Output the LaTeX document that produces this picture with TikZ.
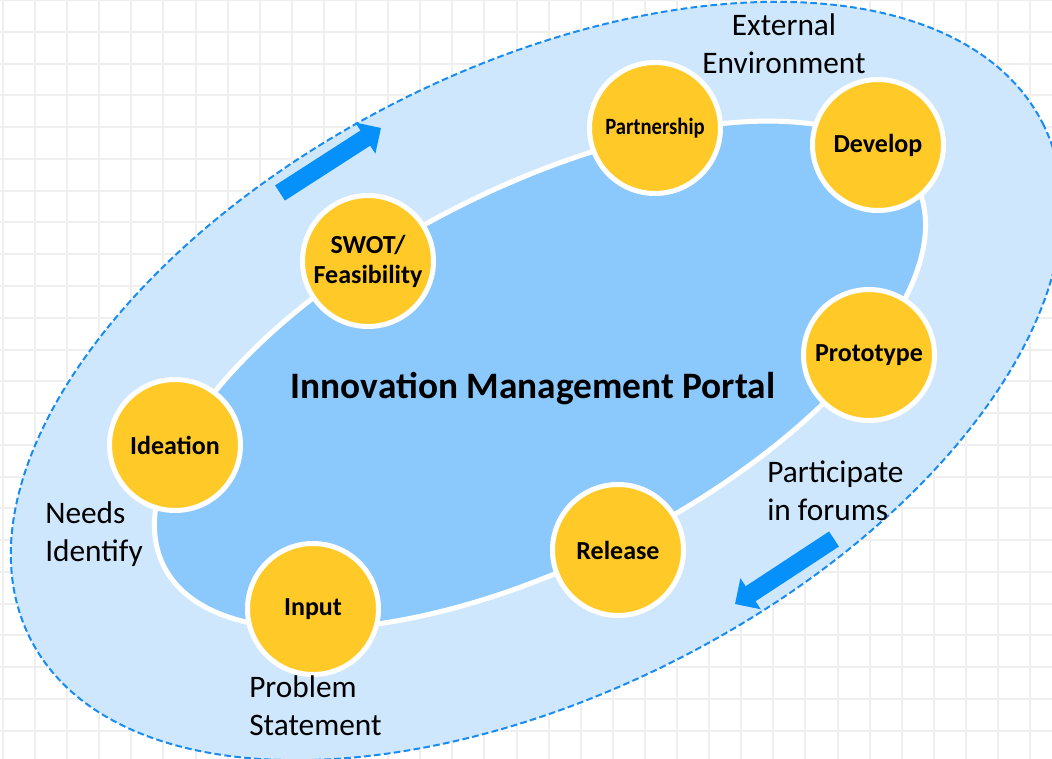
\documentclass[tikz,border=0pt]{standalone}
\usepackage{fontspec}
\setmainfont{Carlito}
\usetikzlibrary{arrows.meta}
\definecolor{outerfill}{RGB}{206,231,253}
\definecolor{innerfill}{RGB}{139,200,252}
\definecolor{dashblue}{RGB}{24,140,240}
\definecolor{arrowblue}{RGB}{6,144,250}
\definecolor{stagefill}{RGB}{255,202,40}
\definecolor{gridgray}{RGB}{239,239,239}
\begin{document}
\begin{tikzpicture}[x=0.75pt,y=-0.75pt,
  stage/.style={circle, fill=stagefill, draw=white, line width=3.75pt, minimum size=98.25pt, inner sep=0pt, font=\bfseries\fontsize{19.5}{22.5}\selectfont, align=center, text=black},
  lbl/.style={font=\fontsize{23.5}{28.5}\selectfont, inner sep=0pt, text=black},
  flow/.style={draw=arrowblue, line width=13.5pt, -{Triangle[width=27pt,length=14pt]}, arrowblue},
  gridline/.style={gridgray, line width=1.5pt}
]
\useasboundingbox (0,0) rectangle (1052,759);
\clip (0,0) rectangle (1052,759);
\fill[white] (0,0) rectangle (1052,759);
\foreach \i in {0,...,32} \draw[gridline] ({2.9+32.1*\i},0) -- ({2.9+32.1*\i},759);
\foreach \j in {0,...,24} \draw[gridline] (0,{0.25+31.75*\j}) -- (1052,{0.25+31.75*\j});
% outer environment
\filldraw[fill=outerfill, draw=dashblue, line width=1.5pt, dash pattern=on 5pt off 2.5pt, rotate around={27:(536.5,381)}] (536.5,381) ellipse [x radius=568, y radius=312];
% inner portal
\filldraw[fill=innerfill, draw=white, line width=3.75pt, rotate around={27:(540,375)}] (540,375) ellipse [x radius=422, y radius=187];
% arrows
\coordinate (a1s) at (280,193);
\coordinate (a1e) at (381,128);
\coordinate (a2s) at (834,539);
\coordinate (a2e) at (735,604);
\draw[flow] (a1s) -- (a1e);
\draw[flow] (a2s) -- (a2e);
% stages
\node[stage] (swot) at (368,261) {SWOT/\\Feasibility};
\node[stage] (part) at (655,128) {\fontsize{17.5}{20}\selectfont\scalebox{0.885}[1]{Partnership}};
\node[stage] (dev) at (878,145) {Develop};
\node[stage] (proto) at (869,355) {Prototype};
\node[stage] (rel) at (618,550) {Release};
\node[stage] (inp) at (313,609) {Input};
\node[stage] (idea) at (175,445) {Ideation};
% title
\node[font=\bfseries\fontsize{28}{33}\selectfont, inner sep=0pt, anchor=base] (title) at (533,398) {Innovation Management Portal};
% labels (base anchor = baseline of the last line)
\node[lbl, anchor=base, align=center] (ext) at (784,74) {External\\Environment};
\node[lbl, anchor=base west, align=left] (forum) at (767,520) {Participate\\in forums};
\node[lbl, anchor=base west, align=left] (needs) at (45,561) {Needs\\Identify};
\node[lbl, anchor=base west, align=left] (prob) at (249,735) {Problem\\Statement};
\end{tikzpicture}
\end{document}
